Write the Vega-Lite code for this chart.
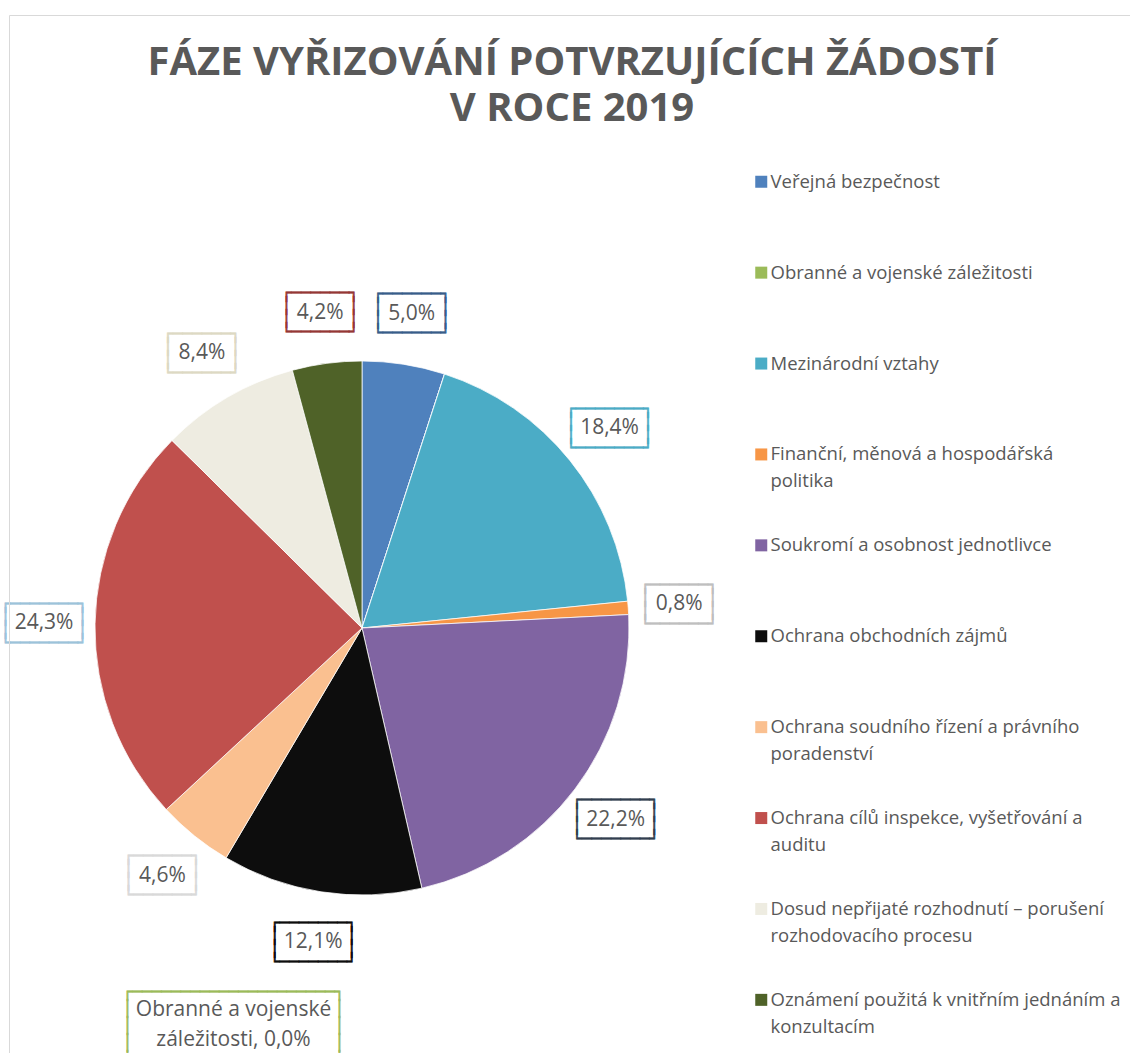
{
  "$schema": "https://vega.github.io/schema/vega-lite/v6.json",
  "width": 724,
  "height": 850,
  "autosize": "none",
  "padding": {"left": 0, "top": 203, "right": 406, "bottom": 0},
  "background": "white",
  "config": {
    "view": {"stroke": null},
    "locale": {"number": {"decimal": ",", "thousands": " ", "grouping": [3], "currency": ["", " Kč"]}},
    "style": {"guide-label": {"lineHeight": 27}}
  },
  "title": {
    "text": ["FÁZE VYŘIZOVÁNÍ POTVRZUJÍCÍCH ŽÁDOSTÍ", "V ROCE 2019"],
    "font": "Open Sans",
    "fontSize": 40,
    "fontWeight": "bold",
    "color": "#595959",
    "lineHeight": 46,
    "anchor": "middle",
    "frame": "group",
    "offset": 0,
    "baseline": "alphabetic",
    "dx": 210,
    "dy": 146.5
  },
  "data": {
    "values": [
      {"idx": 1, "category": "Veřejná bezpečnost", "value": 0.050},
      {"idx": 2, "category": "Obranné a vojenské záležitosti", "value": 0.000},
      {"idx": 3, "category": "Mezinárodní vztahy", "value": 0.184},
      {"idx": 4, "category": "Finanční, měnová a hospodářská politika", "value": 0.008},
      {"idx": 5, "category": "Soukromí a osobnost jednotlivce", "value": 0.222},
      {"idx": 6, "category": "Ochrana obchodních zájmů", "value": 0.121},
      {"idx": 7, "category": "Ochrana soudního řízení a právního poradenství", "value": 0.046},
      {"idx": 8, "category": "Ochrana cílů inspekce, vyšetřování a auditu", "value": 0.243},
      {"idx": 9, "category": "Dosud nepřijaté rozhodnutí – porušení rozhodovacího procesu", "value": 0.084},
      {"idx": 10, "category": "Oznámení použitá k vnitřním jednáním a konzultacím", "value": 0.042}
    ]
  },
  "layer": [
    {
      "mark": {"type": "arc", "outerRadius": 267, "stroke": "white", "strokeWidth": 0.75},
      "encoding": {
        "theta": {"field": "value", "type": "quantitative", "stack": true},
        "order": {"field": "idx", "type": "quantitative"},
        "color": {
          "field": "category",
          "type": "nominal",
          "scale": {
            "domain": ["Veřejná bezpečnost", "Obranné a vojenské záležitosti", "Mezinárodní vztahy", "Finanční, měnová a hospodářská politika", "Soukromí a osobnost jednotlivce", "Ochrana obchodních zájmů", "Ochrana soudního řízení a právního poradenství", "Ochrana cílů inspekce, vyšetřování a auditu", "Dosud nepřijaté rozhodnutí – porušení rozhodovacího procesu", "Oznámení použitá k vnitřním jednáním a konzultacím"],
            "range": ["#4F81BD", "#9BBB59", "#4BACC6", "#F79646", "#8064A2", "#0D0D0D", "#FAC090", "#C0504D", "#EEECE1", "#4F6228"]
          },
          "legend": {
            "title": null,
            "orient": "none",
            "legendX": 752,
            "legendY": -30.5,
            "padding": 0,
            "symbolType": "square",
            "symbolSize": 144,
            "symbolStrokeWidth": 0,
            "labelFont": "Open Sans",
            "labelFontSize": 18.5,
            "labelColor": "#595959",
            "labelOffset": 0,
            "labelLimit": 420,
            "labelBaseline": "middle",
            "rowPadding": 17.9,
            "labelExpr": "datum.label == 'Finanční, měnová a hospodářská politika' ? ['Finanční, měnová a hospodářská', 'politika', ''] : datum.label == 'Ochrana soudního řízení a právního poradenství' ? ['Ochrana soudního řízení a právního', 'poradenství', ''] : datum.label == 'Ochrana cílů inspekce, vyšetřování a auditu' ? ['Ochrana cílů inspekce, vyšetřování a', 'auditu', ''] : datum.label == 'Dosud nepřijaté rozhodnutí – porušení rozhodovacího procesu' ? ['Dosud nepřijaté rozhodnutí – porušení', 'rozhodovacího procesu', ''] : datum.label == 'Oznámení použitá k vnitřním jednáním a konzultacím' ? ['Oznámení použitá k vnitřním jednáním a', 'konzultacím', ''] : [datum.label, '', '']"
          }
        }
      }
    },
    {
      "transform": [{"filter": "datum.value > 0"}],
      "mark": {"type": "text", "radius": 318, "dy": -19.5, "font": "DejaVu Sans Mono", "fontSize": 16, "lineHeight": 13, "align": "center", "baseline": "middle", "strokeWidth": 0.6},
      "encoding": {
        "theta": {"field": "value", "type": "quantitative", "stack": true},
        "order": {"field": "idx", "type": "quantitative"},
        "detail": {"field": "category", "type": "nominal"},
        "fill": {
          "field": "category",
          "type": "nominal",
          "scale": {
            "domain": ["Veřejná bezpečnost", "Obranné a vojenské záležitosti", "Mezinárodní vztahy", "Finanční, měnová a hospodářská politika", "Soukromí a osobnost jednotlivce", "Ochrana obchodních zájmů", "Ochrana soudního řízení a právního poradenství", "Ochrana cílů inspekce, vyšetřování a auditu", "Dosud nepřijaté rozhodnutí – porušení rozhodovacího procesu", "Oznámení použitá k vnitřním jednáním a konzultacím"],
            "range": ["#385D8A", "#9BBB59", "#4BACC6", "#BFBFBF", "#323E4F", "#0D0D0D", "#D9D9D9", "#9CC3DA", "#DDD9C3", "#953735"]
          },
          "legend": null
        },
        "stroke": {
          "field": "category",
          "type": "nominal",
          "scale": {
            "domain": ["Veřejná bezpečnost", "Obranné a vojenské záležitosti", "Mezinárodní vztahy", "Finanční, měnová a hospodářská politika", "Soukromí a osobnost jednotlivce", "Ochrana obchodních zájmů", "Ochrana soudního řízení a právního poradenství", "Ochrana cílů inspekce, vyšetřování a auditu", "Dosud nepřijaté rozhodnutí – porušení rozhodovacího procesu", "Oznámení použitá k vnitřním jednáním a konzultacím"],
            "range": ["#385D8A", "#9BBB59", "#4BACC6", "#BFBFBF", "#323E4F", "#0D0D0D", "#D9D9D9", "#9CC3DA", "#DDD9C3", "#953735"]
          },
          "legend": null
        },
        "text": {
          "condition": {"test": "datum.value >= 0.1", "value": ["┌───────┐", "│\u00a0\u00a0\u00a0\u00a0\u00a0\u00a0\u00a0│", "│\u00a0\u00a0\u00a0\u00a0\u00a0\u00a0\u00a0│", "└───────┘"]},
          "value": ["┌──────┐", "│\u00a0\u00a0\u00a0\u00a0\u00a0\u00a0│", "│\u00a0\u00a0\u00a0\u00a0\u00a0\u00a0│", "└──────┘"]
        }
      }
    },
    {
      "transform": [{"filter": "datum.value > 0"}],
      "mark": {"type": "text", "radius": 318, "font": "Open Sans", "fontSize": 21, "color": "#595959", "align": "center", "baseline": "middle"},
      "encoding": {
        "theta": {"field": "value", "type": "quantitative", "stack": true},
        "order": {"field": "idx", "type": "quantitative"},
        "detail": {"field": "category", "type": "nominal"},
        "text": {"field": "value", "type": "quantitative", "format": ".1%"}
      }
    },
    {
      "transform": [{"filter": "datum.value == 0"}],
      "mark": {"type": "text", "theta": 3.466, "radius": 403, "dy": -18, "font": "DejaVu Sans Mono", "fontSize": 16, "lineHeight": 17, "align": "center", "baseline": "middle", "color": "#9BBB59", "stroke": "#9BBB59", "strokeWidth": 0.6},
      "encoding": {
        "text": {"value": ["┌─────────────────────┐", "│\u00a0\u00a0\u00a0\u00a0\u00a0\u00a0\u00a0\u00a0\u00a0\u00a0\u00a0\u00a0\u00a0\u00a0\u00a0\u00a0\u00a0\u00a0\u00a0\u00a0\u00a0│", "│\u00a0\u00a0\u00a0\u00a0\u00a0\u00a0\u00a0\u00a0\u00a0\u00a0\u00a0\u00a0\u00a0\u00a0\u00a0\u00a0\u00a0\u00a0\u00a0\u00a0\u00a0│", "│\u00a0\u00a0\u00a0\u00a0\u00a0\u00a0\u00a0\u00a0\u00a0\u00a0\u00a0\u00a0\u00a0\u00a0\u00a0\u00a0\u00a0\u00a0\u00a0\u00a0\u00a0│", "└─────────────────────┘"]}
      }
    },
    {
      "transform": [{"filter": "datum.value == 0"}],
      "mark": {"type": "text", "theta": 3.466, "radius": 403, "font": "Open Sans", "lineHeight": 30, "color": "#595959", "align": "center", "baseline": "middle"},
      "encoding": {
        "text": {"value": ["Obranné a vojenské", "záležitosti, 0,0%"]},
        "size": {
          "datum": "rámec",
          "type": "ordinal",
          "scale": {"range": [21, 21]},
          "legend": {
            "title": null,
            "orient": "none",
            "legendX": 9,
            "legendY": -188,
            "padding": 562,
            "strokeColor": "#d9d9d9",
            "fillColor": null,
            "symbolOpacity": 0,
            "symbolStrokeWidth": 0,
            "labelExpr": "''"
          }
        }
      }
    }
  ]
}
